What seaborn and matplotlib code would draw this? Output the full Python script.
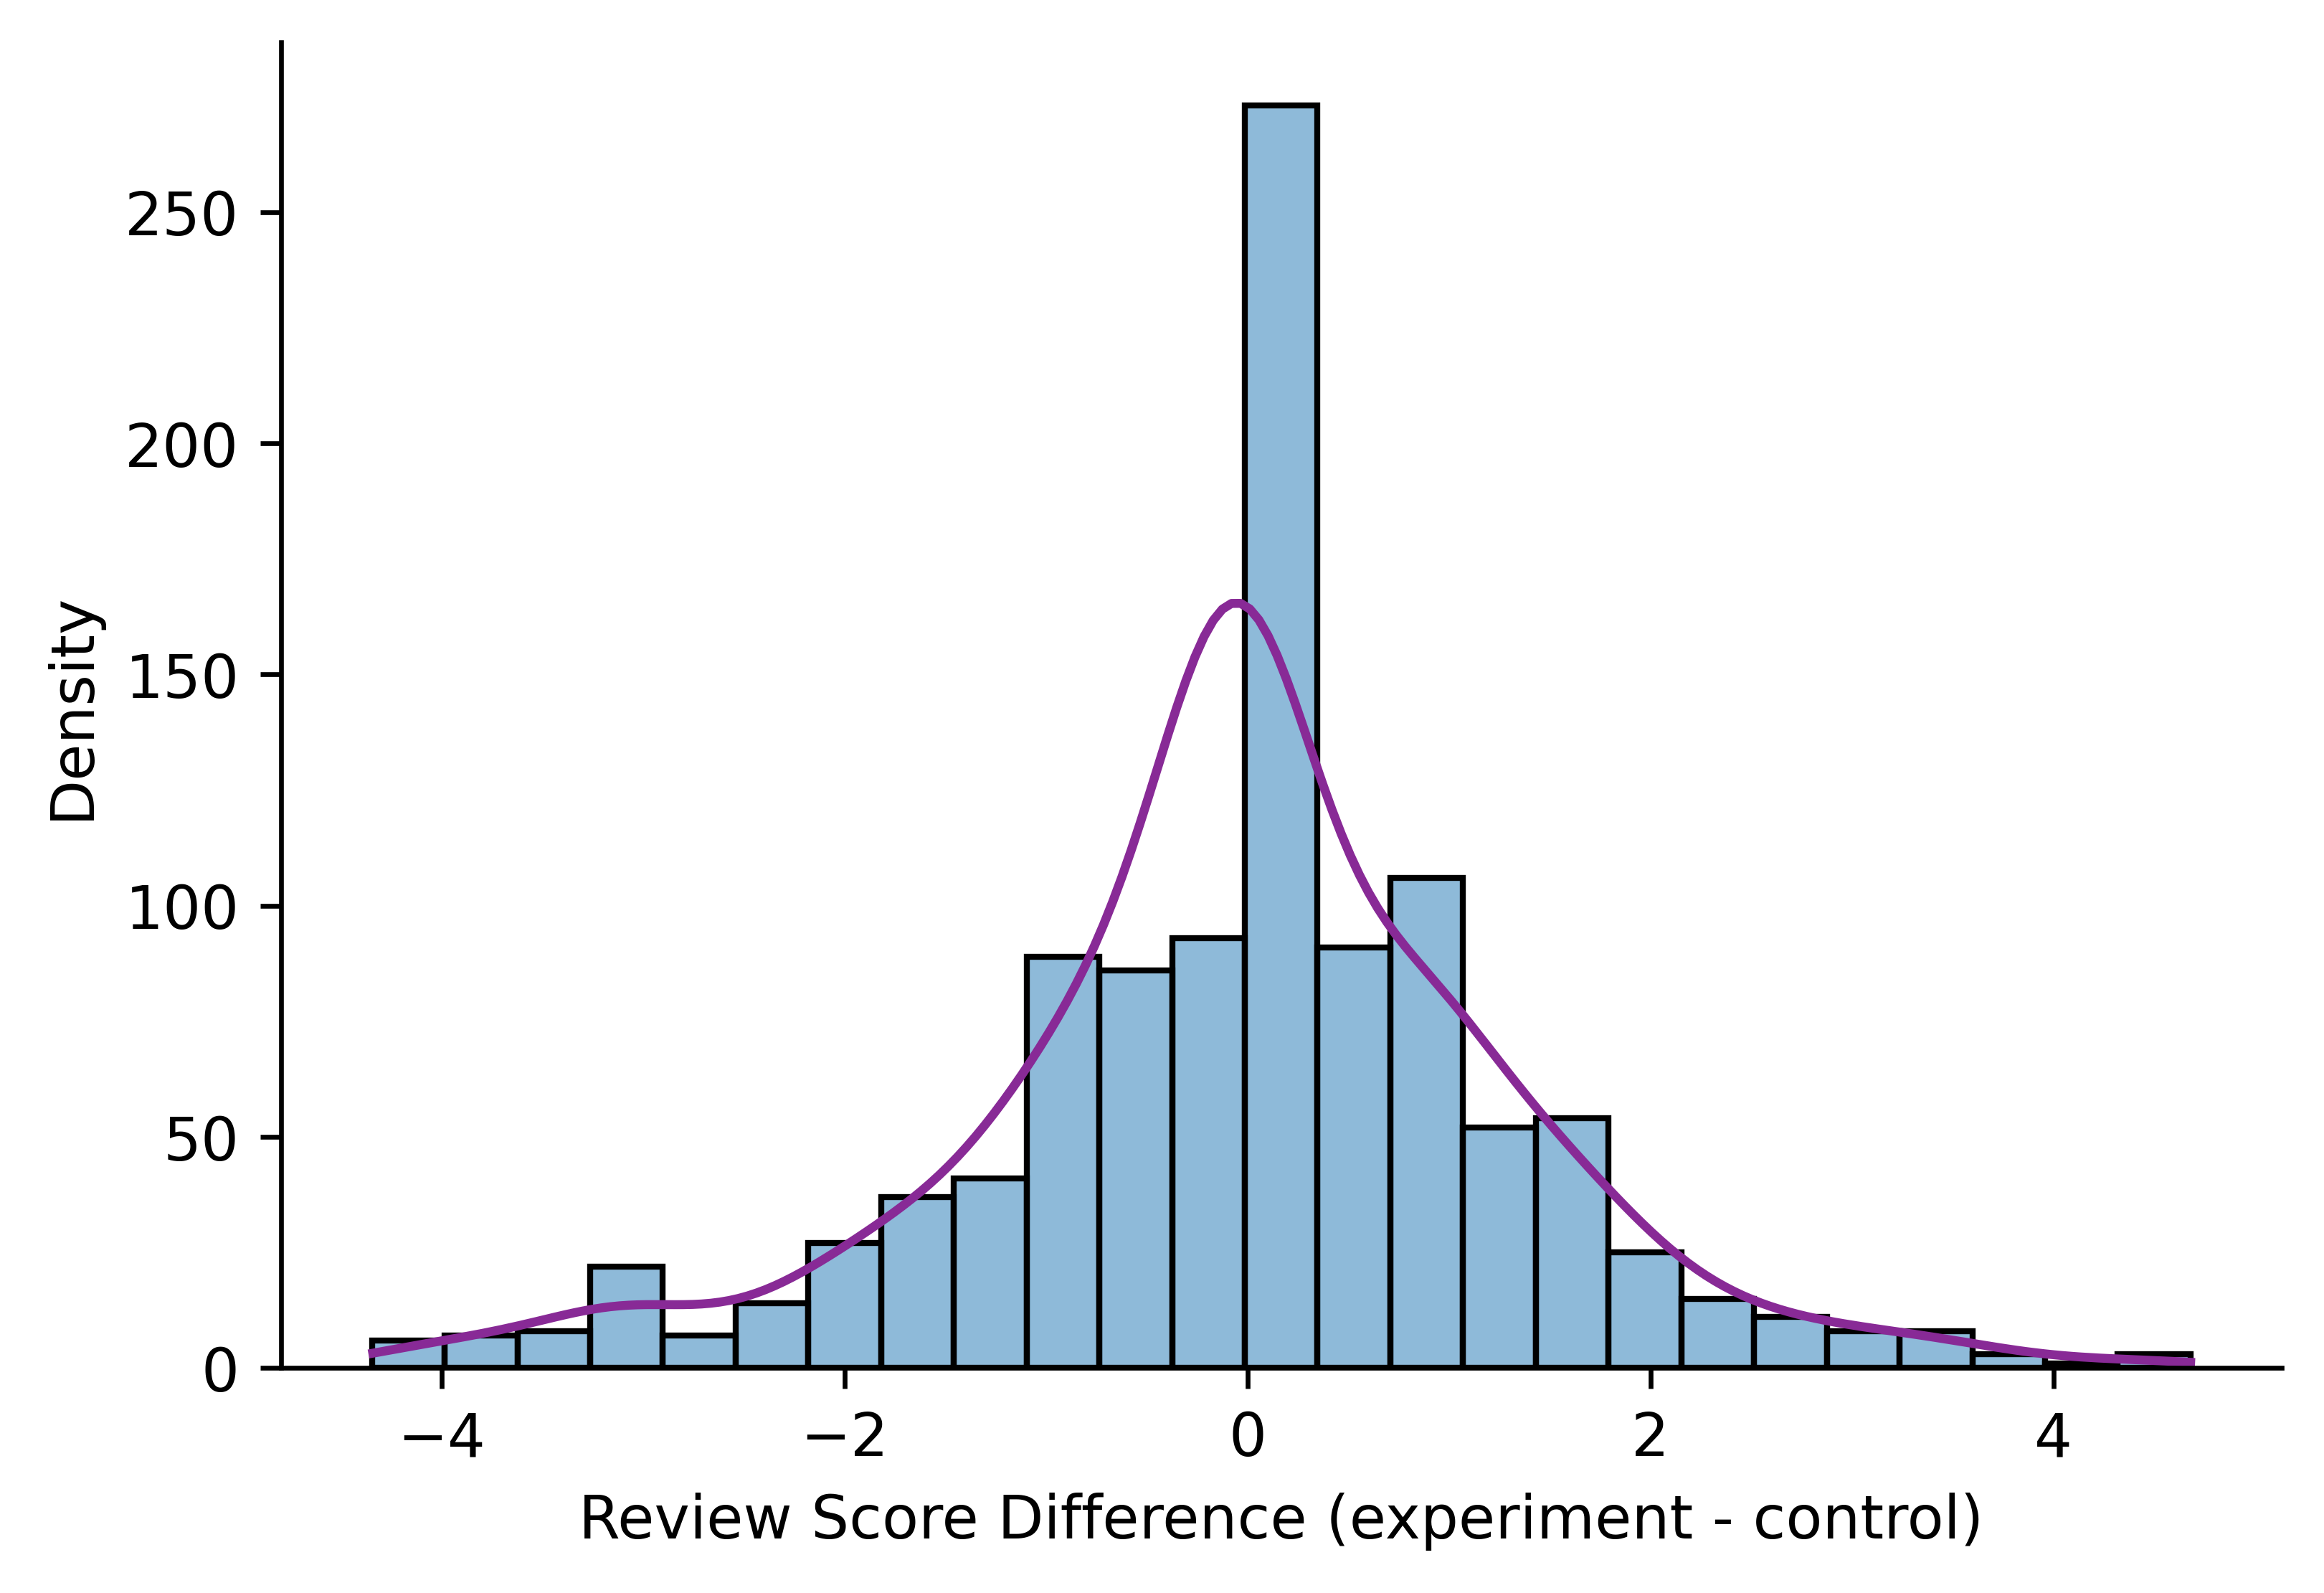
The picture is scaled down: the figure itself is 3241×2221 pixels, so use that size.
import numpy as np
import pandas as pd
import matplotlib
matplotlib.use("Agg")
import matplotlib.pyplot as plt
import seaborn as sns

# Representative score difference per bin (bin centres, the tall bin is the zero-difference mass)
score_values = [-4.16, -3.80, -3.44, -3.08, -2.72, -2.36, -2.00, -1.64, -1.28,
                -0.92, -0.55, -0.19, 0.00, 0.53, 0.89, 1.25, 1.61, 1.97,
                2.33, 2.70, 3.06, 3.42, 3.78, 4.14, 4.50]
# Number of reviews in each bin
bin_counts = [6, 7, 8, 22, 7, 14, 27, 37, 41,
              89, 86, 93, 273, 91, 106, 52, 54, 25,
              15, 11, 8, 8, 3, 1, 3]
# Observed range of the differences
score_range = (-4.345, 4.68)

df = pd.DataFrame({"diff": np.repeat(score_values, bin_counts)})

fig, ax = plt.subplots(figsize=(6, 4))
sns.histplot(data=df, x="diff", bins=25, binrange=score_range, kde=True,
             kde_kws={"bw_adjust": 1.15, "cut": 0.48},
             edgecolor="black", linewidth=1, ax=ax)
# purple density curve on top of the bars
ax.lines[0].set_color("#882a96")

ax.set_xlabel("Review Score Difference (experiment - control)")
ax.set_ylabel("Density")
sns.despine()

fig.savefig("out.png", dpi=600, bbox_inches="tight")
